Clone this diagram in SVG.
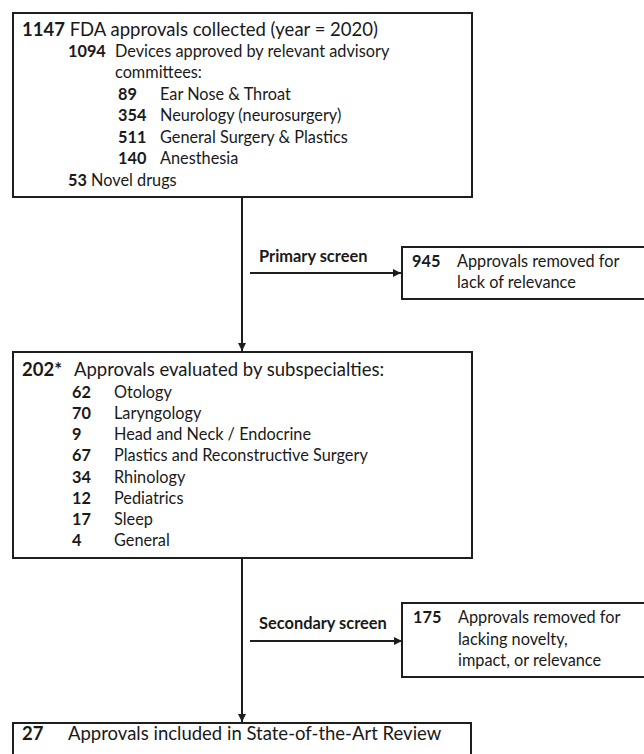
<svg xmlns="http://www.w3.org/2000/svg" width="644" height="754" viewBox="0 0 644 754">
<defs>
<style>
text{font-family:Lato,"Open Sans","Liberation Sans",sans-serif;font-size:16.3px;fill:#1a1a1a}
.t{font-size:18.5px}
.b{font-weight:bold}
.lbl{font-weight:bold;font-size:16.4px}
.box{fill:#fff;stroke:#1e1e1e;stroke-width:2}
.ln{stroke:#1e1e1e;stroke-width:2;fill:none}
</style>
<marker id="ah" viewBox="0 0 8 8" refX="8" refY="4" markerWidth="4" markerHeight="4" orient="auto" markerUnits="strokeWidth">
<path d="M0,0 L8,4 L0,8 z" fill="#1e1e1e"/>
</marker>
</defs>
<rect width="644" height="754" fill="#fff"/>
<g id="connectors">
<line class="ln" x1="242" y1="197" x2="242" y2="351" marker-end="url(#ah)"/>
<line class="ln" x1="250" y1="273" x2="401" y2="273" marker-end="url(#ah)"/>
<line class="ln" x1="242" y1="558" x2="242" y2="722" marker-end="url(#ah)"/>
<line class="ln" x1="250" y1="641" x2="402" y2="641" marker-end="url(#ah)"/>
<text class="lbl" x="259" y="262">Primary screen</text>
<text class="lbl" x="259" y="629">Secondary screen</text>
</g>
<g id="n1147">
<rect class="box" x="13" y="13" width="459" height="184"/>
<text class="t" x="22" y="36"><tspan class="b">1147</tspan> FDA approvals collected (year = 2020)</text>
<text class="b" x="68" y="57">1094</text><text x="115" y="57">Devices approved by relevant advisory</text>
<text x="115" y="78">committees:</text>
<text class="b" x="118" y="100">89</text><text x="160" y="100">Ear Nose &amp; Throat</text>
<text class="b" x="118" y="121">354</text><text x="160" y="121">Neurology (neurosurgery)</text>
<text class="b" x="118" y="143">511</text><text x="160" y="143">General Surgery &amp; Plastics</text>
<text class="b" x="118" y="164">140</text><text x="160" y="164">Anesthesia</text>
<text x="68" y="186"><tspan class="b">53</tspan> Novel drugs</text>
</g>
<g id="n945">
<rect class="box" x="402" y="247" width="250" height="52"/>
<text class="b" x="412" y="267">945</text>
<text x="457" y="267">Approvals removed for</text>
<text x="457" y="288">lack of relevance</text>
</g>
<g id="n202">
<rect class="box" x="13" y="352" width="459" height="206"/>
<text class="t b" x="22" y="376">202*</text><text class="t" x="74" y="376">Approvals evaluated by subspecialties:</text>
<text class="b" x="72" y="397.5">62</text><text x="114" y="397.5">Otology</text>
<text class="b" x="72" y="419">70</text><text x="114" y="419">Laryngology</text>
<text class="b" x="72" y="440">9</text><text x="114" y="440">Head and Neck / Endocrine</text>
<text class="b" x="72" y="461">67</text><text x="114" y="461">Plastics and Reconstructive Surgery</text>
<text class="b" x="72" y="482.5">34</text><text x="114" y="482.5">Rhinology</text>
<text class="b" x="72" y="504">12</text><text x="114" y="504">Pediatrics</text>
<text class="b" x="72" y="525">17</text><text x="114" y="525">Sleep</text>
<text class="b" x="72" y="546">4</text><text x="114" y="546">General</text>
</g>
<g id="n175">
<rect class="box" x="402" y="603" width="250" height="74"/>
<text class="b" x="413" y="623">175</text>
<text x="458" y="623">Approvals removed for</text>
<text x="458" y="645">lacking novelty,</text>
<text x="458" y="666">impact, or relevance</text>
</g>
<g id="n27">
<rect class="box" x="13" y="723" width="458" height="50"/>
<text class="t b" x="22" y="740">27</text>
<text class="t" x="68" y="740">Approvals included in State-of-the-Art Review</text>
</g>
</svg>
